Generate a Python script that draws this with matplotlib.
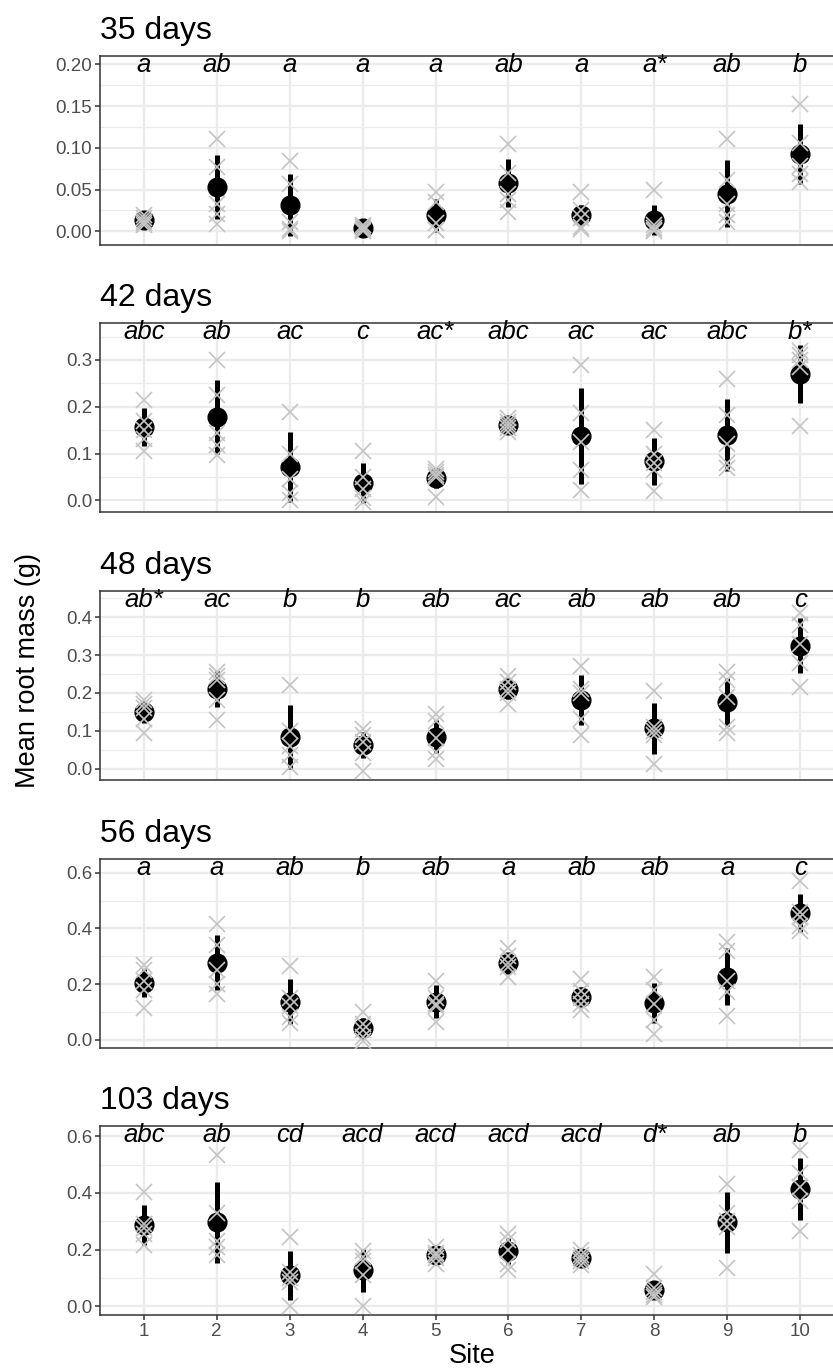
import matplotlib
matplotlib.use("Agg")
import matplotlib.pyplot as plt
import matplotlib.ticker as mticker
import matplotlib.transforms as mtransforms

sites = list(range(1, 11))

# individual plants (grey crosses), one list per site
pts_35 = [[0.020, 0.016, 0.012, 0.010, 0.008], [0.110, 0.077, 0.033, 0.021, 0.009],
          [0.084, 0.057, 0.011, 0.003, 0.000], [0.008, 0.005, 0.003, 0.002, 0.000],
          [0.047, 0.035, 0.010, 0.002, 0.001], [0.105, 0.070, 0.045, 0.037, 0.023],
          [0.047, 0.025, 0.016, 0.005, 0.003], [0.049, 0.008, 0.004, 0.002, 0.000],
          [0.110, 0.061, 0.033, 0.019, 0.011], [0.152, 0.106, 0.078, 0.068, 0.059]]
pts_42 = [[0.215, 0.170, 0.150, 0.130, 0.105], [0.300, 0.226, 0.144, 0.119, 0.097],
          [0.188, 0.100, 0.045, 0.015, 0.000], [0.105, 0.050, 0.025, 0.005, -0.003],
          [0.066, 0.060, 0.055, 0.050, 0.008], [0.175, 0.168, 0.160, 0.155, 0.145],
          [0.289, 0.187, 0.125, 0.065, 0.023], [0.151, 0.100, 0.080, 0.065, 0.019],
          [0.259, 0.183, 0.120, 0.080, 0.068], [0.320, 0.310, 0.300, 0.285, 0.158]]
pts_48 = [[0.180, 0.170, 0.160, 0.130, 0.095], [0.255, 0.245, 0.235, 0.180, 0.128],
          [0.220, 0.100, 0.060, 0.035, 0.005], [0.105, 0.090, 0.070, 0.040, -0.005],
          [0.145, 0.125, 0.080, 0.045, 0.025], [0.245, 0.230, 0.210, 0.200, 0.170],
          [0.270, 0.210, 0.200, 0.130, 0.090], [0.205, 0.110, 0.100, 0.090, 0.012],
          [0.255, 0.235, 0.190, 0.110, 0.095], [0.412, 0.380, 0.330, 0.280, 0.215]]
pts_56 = [[0.270, 0.250, 0.210, 0.180, 0.115], [0.415, 0.340, 0.250, 0.200, 0.165],
          [0.265, 0.150, 0.120, 0.080, 0.060], [0.100, 0.055, 0.035, 0.010, -0.005],
          [0.210, 0.150, 0.130, 0.120, 0.065], [0.330, 0.300, 0.275, 0.260, 0.225],
          [0.220, 0.175, 0.150, 0.130, 0.105], [0.225, 0.180, 0.130, 0.070, 0.020],
          [0.350, 0.320, 0.210, 0.170, 0.085], [0.570, 0.460, 0.440, 0.410, 0.390]]
pts_103 = [[0.405, 0.290, 0.275, 0.255, 0.215], [0.535, 0.330, 0.230, 0.210, 0.180],
           [0.245, 0.120, 0.100, 0.085, 0.000], [0.195, 0.175, 0.160, 0.110, 0.000],
           [0.210, 0.190, 0.180, 0.170, 0.150], [0.255, 0.235, 0.200, 0.150, 0.130],
           [0.200, 0.180, 0.170, 0.160, 0.145], [0.115, 0.065, 0.050, 0.040, 0.035],
           [0.430, 0.330, 0.300, 0.280, 0.135], [0.550, 0.470, 0.420, 0.370, 0.265]]

mean_35 = [0.013, 0.053, 0.031, 0.004, 0.019, 0.058, 0.019, 0.013, 0.045, 0.093]
mean_42 = [0.157, 0.178, 0.071, 0.037, 0.048, 0.160, 0.137, 0.083, 0.140, 0.270]
mean_48 = [0.150, 0.211, 0.084, 0.062, 0.084, 0.211, 0.180, 0.106, 0.176, 0.325]
mean_56 = [0.203, 0.277, 0.137, 0.041, 0.137, 0.275, 0.155, 0.131, 0.227, 0.455]
mean_103 = [0.287, 0.296, 0.110, 0.128, 0.180, 0.197, 0.171, 0.058, 0.296, 0.415]

sd_35 = [0.006, 0.038, 0.037, 0.004, 0.020, 0.029, 0.013, 0.018, 0.040, 0.036]
sd_42 = [0.040, 0.079, 0.075, 0.043, 0.021, 0.011, 0.102, 0.050, 0.077, 0.063]
sd_48 = [0.029, 0.048, 0.084, 0.035, 0.044, 0.028, 0.066, 0.068, 0.064, 0.073]
sd_56 = [0.051, 0.099, 0.081, 0.038, 0.060, 0.040, 0.033, 0.072, 0.102, 0.069]
sd_103 = [0.069, 0.142, 0.087, 0.076, 0.022, 0.046, 0.020, 0.033, 0.107, 0.110]

let_35 = ["a", "ab", "a", "a", "a", "ab", "a", "a*", "ab", "b"]
let_42 = ["abc", "ab", "ac", "c", "ac*", "abc", "ac", "ac", "abc", "b*"]
let_48 = ["ab*", "ac", "b", "b", "ab", "ac", "ab", "ab", "ab", "c"]
let_56 = ["a", "a", "ab", "b", "ab", "a", "ab", "ab", "a", "c"]
let_103 = ["abc", "ab", "cd", "acd", "acd", "acd", "acd", "d*", "ab", "b"]

titles = ["35 days", "42 days", "48 days", "56 days", "103 days"]

# layout (pixels of the 833x1368 canvas)
W, H = 833, 1368
PANEL_LEFT, PANEL_RIGHT = 100, 844
PANEL_TOPS = [56, 323, 591, 859, 1126]
PANEL_H = 189
YLIMS = [(-0.0165, 0.210), (-0.025, 0.379), (-0.030, 0.469), (-0.030, 0.650), (-0.030, 0.636)]
Y_MAJOR = [0.05, 0.1, 0.1, 0.2, 0.2]
Y_FMT = ["%.2f", "%.1f", "%.1f", "%.1f", "%.1f"]

GRID = "#EBEBEB"
CROSS = "#C4C4C4"
TICK_TXT = "#4D4D4D"
BORDER = "#333333"

plt.rcParams.update({
    "font.family": ["Liberation Sans", "DejaVu Sans"],
})

fig = plt.figure(figsize=(W / 100, H / 100), dpi=100)

panels = [
    (pts_35, mean_35, sd_35, let_35),
    (pts_42, mean_42, sd_42, let_42),
    (pts_48, mean_48, sd_48, let_48),
    (pts_56, mean_56, sd_56, let_56),
    (pts_103, mean_103, sd_103, let_103),
]

for i, (pts, means, sds, letters) in enumerate(panels):
    top = PANEL_TOPS[i]
    ax = fig.add_axes([PANEL_LEFT / W, 1 - (top + PANEL_H) / H,
                       (PANEL_RIGHT - PANEL_LEFT) / W, PANEL_H / H])
    ax.set_xlim(0.4, 10.6)
    ax.set_ylim(*YLIMS[i])
    ax.set_axisbelow(True)

    ax.xaxis.set_major_locator(mticker.FixedLocator(sites))
    ax.yaxis.set_major_locator(mticker.MultipleLocator(Y_MAJOR[i]))
    ax.yaxis.set_minor_locator(mticker.MultipleLocator(Y_MAJOR[i] / 2))
    ax.yaxis.set_major_formatter(mticker.FormatStrFormatter(Y_FMT[i]))
    ax.grid(True, which="major", color=GRID, linewidth=1.7)
    ax.grid(True, which="minor", axis="y", color=GRID, linewidth=0.9)

    for s in ax.spines.values():
        s.set_color(BORDER)
        s.set_linewidth(1.1)

    ax.tick_params(axis="y", which="major", length=3.5, width=1.1, color=BORDER,
                   labelcolor=TICK_TXT, labelsize=13.5, pad=2)
    ax.tick_params(which="minor", length=0)
    if i < len(panels) - 1:
        ax.tick_params(axis="x", length=0, labelbottom=False)
    else:
        ax.set_xticklabels([str(s) for s in sites])
        ax.tick_params(axis="x", length=3.5, width=1.1, color=BORDER,
                       labelcolor=TICK_TXT, labelsize=13.5, pad=2)

    # mean +/- sd
    ax.vlines(sites, [m - s for m, s in zip(means, sds)], [m + s for m, s in zip(means, sds)],
              color="black", linewidth=3.6, zorder=2)
    ax.plot(sites, means, "o", color="black", markersize=13.5, zorder=3)
    # individual plants
    for x, vals in zip(sites, pts):
        ax.plot([x] * len(vals), vals, "x", color=CROSS, markersize=11.5,
                markeredgewidth=1.2, zorder=4)

    trans = mtransforms.blended_transform_factory(ax.transData, ax.transAxes)
    for x, lab in zip(sites, letters):
        ax.text(x, 0.95, lab, transform=trans, ha="center", va="center",
                fontsize=18.5, style="italic", color="black", zorder=5)

    fig.text(PANEL_LEFT / W, 1 - (top - 17) / H, titles[i], ha="left", va="baseline",
             fontsize=23, color="black")

fig.text(28 / W, 1 - 671 / H, "Mean root mass (g)", rotation=90, ha="center",
         va="center", fontsize=19.5, color="black")
fig.text(472 / W, 1 - 1356 / H, "Site", ha="center", va="center", fontsize=19.5,
         color="black")

fig.savefig("out.png", dpi=100)
